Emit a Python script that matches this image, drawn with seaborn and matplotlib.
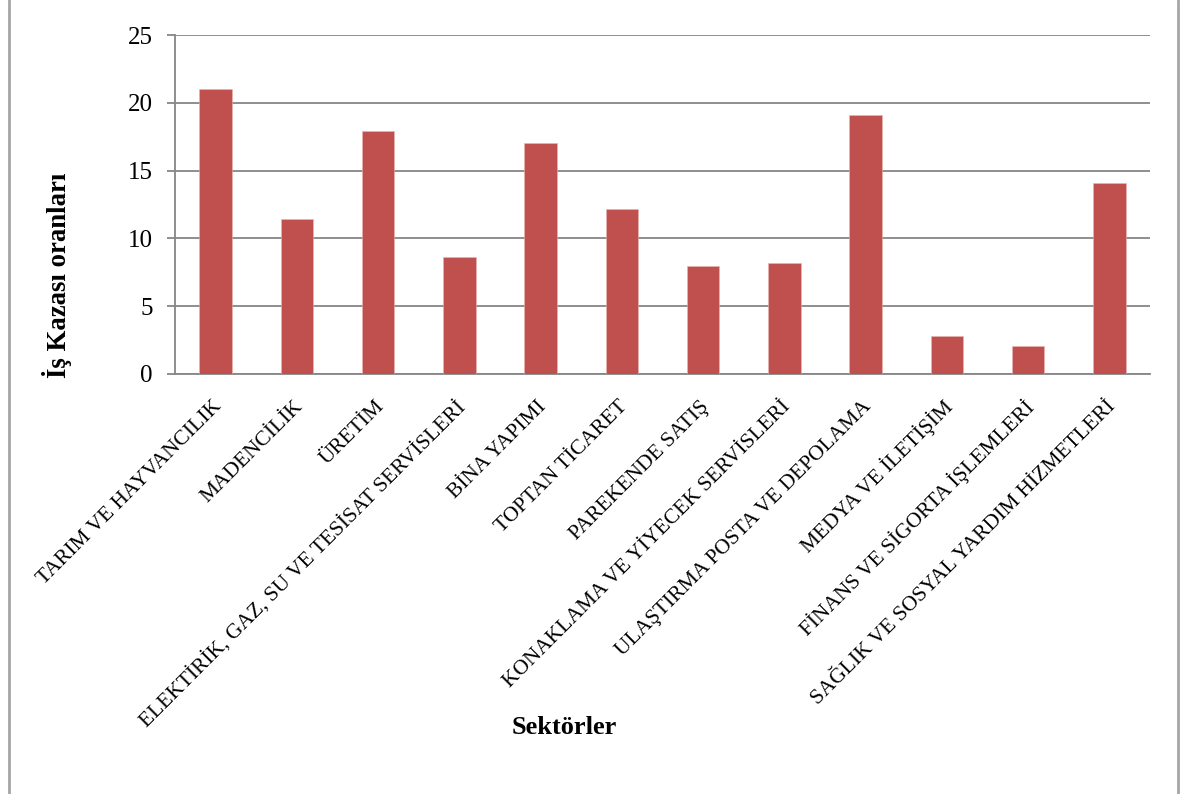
import matplotlib
matplotlib.use("Agg")
import matplotlib.pyplot as plt
from matplotlib.transforms import ScaledTranslation
from matplotlib.lines import Line2D
import seaborn as sns
import pandas as pd

sektorler = [
    "TARIM VE HAYVANCILIK",
    "MADENCİLİK",
    "ÜRETİM",
    "ELEKTİRİK, GAZ, SU VE TESİSAT SERVİSLERİ",
    "BİNA YAPIMI",
    "TOPTAN TİCARET",
    "PAREKENDE SATIŞ",
    "KONAKLAMA VE YİYECEK SERVİSLERİ",
    "ULAŞTIRMA POSTA VE DEPOLAMA",
    "MEDYA VE İLETİŞİM",
    "FİNANS VE SİGORTA İŞLEMLERİ",
    "SAĞLIK VE SOSYAL YARDIM HİZMETLERİ",
]
oranlar = [21.0, 11.4, 17.9, 8.6, 17.0, 12.2, 8.0, 8.2, 19.1, 2.8, 2.1, 14.1]
y_ticks = [0, 5, 10, 15, 20, 25]

sns.set_style("white")
plt.rcParams["font.family"] = ["Liberation Serif", "DejaVu Serif"]
plt.rcParams["text.color"] = "black"
plt.rcParams["xtick.labelcolor"] = "black"
plt.rcParams["ytick.labelcolor"] = "black"

W, H, DPI = 1183, 794, 100
fig = plt.figure(figsize=(W / DPI, H / DPI), dpi=DPI)
ax = fig.add_axes([175 / W, 1 - 374 / H, (1150 - 175) / W, (374 - 35) / H])

df = pd.DataFrame({"sektor": sektorler, "oran": oranlar})
sns.barplot(data=df, x="sektor", y="oran", color="#C0504D", saturation=1,
            width=0.4, edgecolor="#E8B4B3", linewidth=0.4, ax=ax, zorder=3)

grid_col = "#868686"
ax.set_ylim(0, 25)
ax.set_xlim(-0.5, len(sektorler) - 0.5)
ax.set_yticks(y_ticks)
ax.yaxis.grid(True, color=grid_col, linewidth=1.3)
ax.set_axisbelow(True)
for side in ("top", "right"):
    ax.spines[side].set_visible(False)
for side in ("left", "bottom"):
    ax.spines[side].set_color(grid_col)
    ax.spines[side].set_linewidth(1.3)

ax.tick_params(axis="y", which="major", left=True, length=6, width=1.3,
               color=grid_col, labelcolor="black", labelsize=18, pad=10)
ax.tick_params(axis="x", which="major", bottom=False, labelcolor="black",
               labelsize=15.5, pad=18)
ax.set_xlabel("")
ax.set_ylabel("")

ax.set_xticks(range(len(sektorler)))
ax.set_xticklabels(sektorler, rotation=45, ha="right", va="center",
                   rotation_mode="anchor")
shift = ScaledTranslation(3 / DPI, 0, fig.dpi_scale_trans)
for lbl in ax.get_xticklabels():
    lbl.set_transform(lbl.get_transform() + shift)

fig.text(564 / W, 1 - 728 / H, "Sektörler", ha="center", va="center",
         fontsize=19, fontweight="bold", color="black")
fig.text(57 / W, 1 - 275 / H, "İş Kazası oranları", ha="center", va="center",
         rotation=90, fontsize=19.3, fontweight="bold", color="black")

# thin frame lines at the left and right edges of the chart area
for xp in (9, 1178):
    fig.add_artist(Line2D([xp / W, xp / W], [0, 1], transform=fig.transFigure,
                          color="#A6A6A6", linewidth=2))

fig.savefig("out.png", dpi=DPI)
